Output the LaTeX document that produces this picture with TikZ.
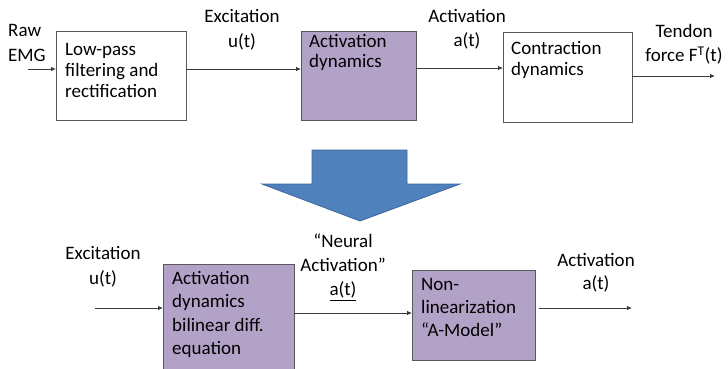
\documentclass[tikz,border=0pt]{standalone}
\usepackage{fontspec}
\setmainfont{Carlito}
\usetikzlibrary{arrows.meta}
\definecolor{lav}{HTML}{B3A2C7}
\definecolor{boxline}{HTML}{595959}
\definecolor{blueF}{HTML}{4F81BD}
\definecolor{blueD}{HTML}{3B649A}
\definecolor{conncol}{HTML}{3A3A3A}
\begin{document}
\begin{tikzpicture}[x=1pt,y=-1pt,
  wbox/.style={draw=boxline,line width=0.9pt,fill=white,inner sep=0pt,outer sep=0pt,anchor=north west},
  pbox/.style={wbox,fill=lav},
  conn/.style={draw=conncol,line width=0.8pt,-{Latex[length=5pt,width=4.5pt]}},
  lbl/.style={inner sep=0pt,align=center,anchor=north,font=\fontsize{19}{24}\selectfont},
  btxt/.style={inner sep=0pt,align=left,anchor=north west,font=\fontsize{19}{21}\selectfont},
  btxtw/.style={inner sep=0pt,align=left,anchor=north west,font=\fontsize{19}{23.5}\selectfont}]
\useasboundingbox (0,0) rectangle (728,369);
% top row boxes
\node[wbox,minimum width=130pt,minimum height=89pt] (b1) at (56,31) {};
\node[pbox,minimum width=115pt,minimum height=89pt] (b2) at (301,31) {};
\node[wbox,minimum width=129pt,minimum height=90pt] (b3) at (503,32) {};
\node[btxt] (t1) at (65,43) {Low-pass\\filtering and\\rectification};
\node[btxt,font=\fontsize{19}{20}\selectfont] (t2) at (309,34) {Activation\\dynamics};
\node[btxt] (t3) at (511,41) {Contraction\\dynamics};
% top labels
\node[inner sep=0pt,align=left,anchor=north west,font=\fontsize{19}{25}\selectfont] (raw) at (8,24) {Raw\\EMG};
\node[lbl,font=\fontsize{19}{25}\selectfont] (exc1) at (242,9) {Excitation\\u(t)};
\node[lbl] (act1) at (467,9) {Activation\\a(t)};
\node[lbl] (ten) at (684,24) {Tendon\\force F\textsuperscript{T}(t)};
% top connectors
\coordinate (rawin) at (28,69);
\coordinate (outT) at (715,76);
\draw[conn] (rawin) -- (rawin -| b1.west);
\draw[conn] (b1.east |- rawin) -- (b2.west |- rawin);
\draw[conn] ([yshift=1pt]b2.east |- rawin) -- ([yshift=1pt]b3.west |- rawin);
\draw[conn] (b3.east |- outT) -- (outT);
% big blue arrow
\path[fill=blueF,draw=blueD,line width=0.8pt]
  (312,150) -- (407,150) -- (407,184) -- (460,184) -- (360,221) -- (262,184) -- (312,184) -- cycle;
% bottom row boxes
\node[pbox,minimum width=131pt,minimum height=106pt] (b4) at (163,264) {};
\node[pbox,minimum width=123pt,minimum height=90pt] (b5) at (412,270) {};
\node[btxtw] (t4) at (172,271) {Activation\\dynamics\\bilinear diff.\\equation};
\node[btxtw,font=\fontsize{19}{23}\selectfont] (t5) at (421,278) {Non-\\linearization\\“A-Model”};
% bottom labels
\node[lbl,font=\fontsize{19}{25}\selectfont] (exc2) at (103,246) {Excitation\\u(t)};
\node[lbl] (neur) at (343,234) {“Neural\\Activation”\\\underline{a(t)}};
\node[lbl,font=\fontsize{19}{23}\selectfont] (act2) at (596,253) {Activation\\a(t)};
% bottom connectors
\coordinate (in4) at (95,308);
\coordinate (m45) at (300,313);
\coordinate (o5s) at (539,308);
\coordinate (o5e) at (632,308);
\draw[conn] (in4) -- (in4 -| b4.west);
\draw[conn] (b4.east |- m45) -- (b5.west |- m45);
\draw[conn] (o5s) -- (o5e);
\end{tikzpicture}
\end{document}
